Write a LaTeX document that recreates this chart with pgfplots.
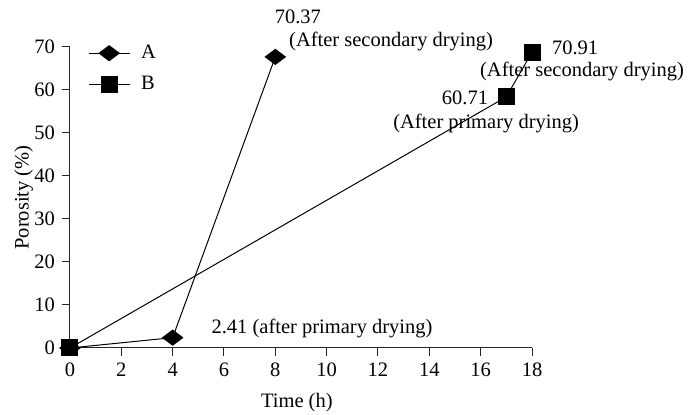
\documentclass[border=0pt]{standalone}
\usepackage{pgfplots}
\pgfplotsset{compat=1.18}
\usepackage{fontspec}
\setmainfont{Liberation Serif}
\begin{document}
\fontsize{20.5bp}{24bp}\selectfont
\begin{tikzpicture}
\begin{axis}[
    scale only axis,
    width=462bp, height=301bp,
    xmin=0, xmax=18, ymin=0, ymax=70,
    axis x line=bottom, axis y line=left,
    axis line style={-, line width=1bp, black!85},
    tick align=outside, major tick length=8bp,
    tick style={line width=1bp, black!85},
    xtick={0,2,...,18}, ytick={0,10,...,70},
    /pgf/number format/assume math mode=true,
    clip=false,
    xlabel={Time (h)},
    ylabel={Porosity (\%)},
    xlabel style={at={(axis description cs:0.491,-0.18)}, anchor=center},
    ylabel style={at={(axis description cs:-0.1,0.5)}, anchor=center},
    legend style={draw=none, fill=none, at={(axis cs:0.7,71.0)}, anchor=north west,
        row sep=11bp, inner sep=0pt, nodes={inner sep=2bp}},
    legend cell align=left,
    legend image code/.code={\draw[mark repeat=2,mark phase=2,#1]
        plot coordinates {(0bp,0bp)(20.5bp,0bp)(41bp,0bp)};
        \path (50bp,0bp);},
]
\addplot[black, line width=1bp, mark=diamond*, mark size=10bp,
    mark options={rotate=90, fill=black}]
    coordinates {(0,0) (4,2.41) (8,67.7)};
\addlegendentry{A}
\addplot[black, line width=1bp, mark=square*, mark size=8bp,
    mark options={fill=black}]
    coordinates {(0,0) (17,58.4) (18,68.8)};
\addlegendentry{B}

\node at (axis cs:8.88,77.0) {70.37};
\node at (axis cs:12.51,71.2) {(After secondary drying)};
\node at (axis cs:19.68,69.8) {70.91};
\node at (axis cs:19.95,64.2) {(After secondary drying)};
\node at (axis cs:15.39,58.1) {60.71};
\node at (axis cs:16.21,52.3) {(After primary drying)};
\node at (axis cs:9.82,4.65) {2.41 (after primary drying)};

\coordinate (bbsw) at (axis cs:-2.727,-15.581);
\coordinate (bbne) at (axis cs:24.117,80.93);
\end{axis}
\pgfresetboundingbox
\useasboundingbox (bbsw) rectangle (bbne);
\end{tikzpicture}
\end{document}
